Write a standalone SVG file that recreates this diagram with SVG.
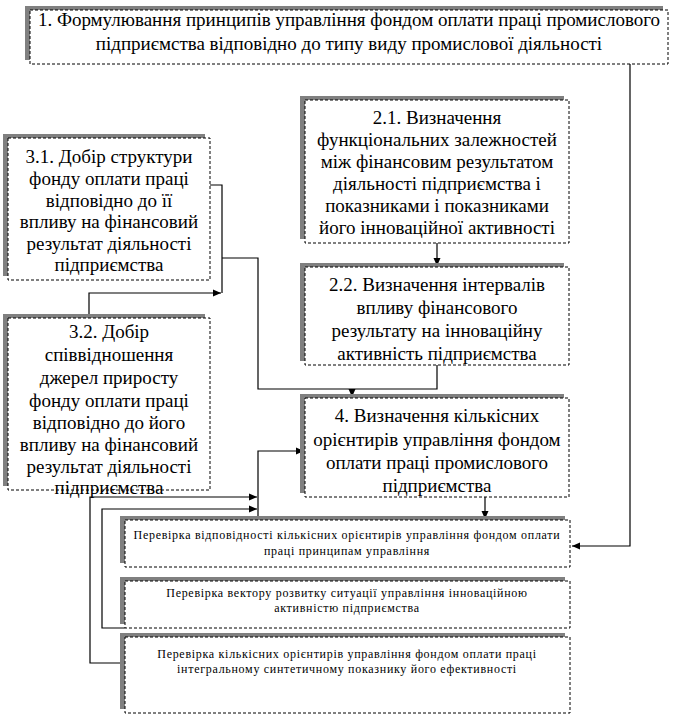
<svg xmlns="http://www.w3.org/2000/svg" width="678" height="714" viewBox="0 0 678 714">
<defs>
<style>
.sh{fill:#808080;stroke:none}
.bx{fill:#fff;stroke:#000;stroke-width:1;stroke-dasharray:3,2}
.t{font-family:"Liberation Serif","Times New Roman",serif;font-size:19px;fill:#000;text-anchor:middle}
.s{font-family:"Liberation Serif","Times New Roman",serif;font-size:12px;fill:#000;text-anchor:middle;letter-spacing:0.7px}
.c{fill:none;stroke:#000;stroke-width:1.2}
</style>
<marker id="ah" markerWidth="9" markerHeight="8" refX="8" refY="4" orient="auto" markerUnits="userSpaceOnUse">
<path d="M0,0.5 L8,4 L0,7.5 z" fill="#000"/>
</marker>
</defs>
<rect width="678" height="714" fill="#fff"/>

<g id="connectors">
<path class="c" d="M630,64 V546 H572" marker-end="url(#ah)"/>
<path class="c" d="M437,243 V266" marker-end="url(#ah)"/>
<path class="c" d="M437,365 V389 H258 V258 H222"/>
<path class="c" d="M210,185 H222 V293"/>
<path class="c" d="M89,318 V293 H221" marker-end="url(#ah)"/>
<path class="c" d="M352,389 V397" marker-end="url(#ah)"/>
<path class="c" d="M258,520 V451 H304" marker-end="url(#ah)"/>
<path class="c" d="M122,663 H90 V497 H257" marker-end="url(#ah)"/>
<path class="c" d="M125,628 H102 V509 H257" marker-end="url(#ah)"/>
<path class="c" d="M485,497 V519" marker-end="url(#ah)"/>
</g>

<g id="n1">
<rect class="sh" x="25" y="6" width="638" height="54"/>
<rect class="bx" x="30" y="10" width="638" height="54"/>
<text class="t" x="349" y="26">1. Формулювання принципів управління фондом оплати праці промислового</text>
<text class="t" x="349" y="50">підприємства відповідно до типу виду промислової діяльності</text>
</g>

<g id="n21">
<rect class="sh" x="300" y="96" width="264" height="143"/>
<rect class="bx" x="305" y="100" width="264" height="143"/>
<text class="t" x="437" y="124">2.1. Визначення</text>
<text class="t" x="437" y="146">функціональних залежностей</text>
<text class="t" x="437" y="168">між фінансовим результатом</text>
<text class="t" x="437" y="190">діяльності підприємства і</text>
<text class="t" x="437" y="212">показниками і показниками</text>
<text class="t" x="437" y="234">його інноваційної активності</text>
</g>

<g id="n22">
<rect class="sh" x="300" y="263" width="264" height="98"/>
<rect class="bx" x="305" y="267" width="264" height="98"/>
<text class="t" x="437" y="291">2.2. Визначення інтервалів</text>
<text class="t" x="437" y="314">впливу фінансового</text>
<text class="t" x="437" y="337">результату на інноваційну</text>
<text class="t" x="437" y="360">активність підприємства</text>
</g>

<g id="n31">
<rect class="sh" x="3" y="134" width="202" height="142"/>
<rect class="bx" x="8" y="138" width="202" height="142"/>
<text class="t" x="109" y="163">3.1. Добір структури</text>
<text class="t" x="109" y="185">фонду оплати праці</text>
<text class="t" x="109" y="207">відповідно до її</text>
<text class="t" x="109" y="228">впливу на фінансовий</text>
<text class="t" x="109" y="250">результат діяльності</text>
<text class="t" x="109" y="271">підприємства</text>
</g>

<g id="n32">
<rect class="sh" x="3" y="314" width="202" height="172"/>
<rect class="bx" x="8" y="318" width="202" height="172"/>
<text class="t" x="109" y="338">3.2. Добір</text>
<text class="t" x="109" y="361">співвідношення</text>
<text class="t" x="109" y="384">джерел приросту</text>
<text class="t" x="109" y="407">фонду оплати праці</text>
<text class="t" x="109" y="429">відповідно до його</text>
<text class="t" x="109" y="451">впливу на фінансовий</text>
<text class="t" x="109" y="473">результат діяльності</text>
<text class="t" x="109" y="494">підприємства</text>
</g>

<g id="n4">
<rect class="sh" x="300" y="394" width="264" height="99"/>
<rect class="bx" x="305" y="398" width="264" height="99"/>
<text class="t" x="437" y="422">4. Визначення кількісних</text>
<text class="t" x="437" y="446">орієнтирів управління фондом</text>
<text class="t" x="437" y="469">оплати праці промислового</text>
<text class="t" x="437" y="492">підприємства</text>
</g>

<g id="b1">
<rect class="sh" x="120" y="516" width="445" height="47"/>
<rect class="bx" x="125" y="520" width="445" height="47"/>
<text class="s" x="347" y="539">Перевірка відповідності кількісних орієнтирів управління фондом оплати</text>
<text class="s" x="347" y="555">праці принципам управління</text>
</g>

<g id="b2">
<rect class="sh" x="120" y="577" width="445" height="47"/>
<rect class="bx" x="125" y="581" width="445" height="47"/>
<text class="s" x="347" y="597">Перевірка вектору розвитку ситуації управління інноваційною</text>
<text class="s" x="347" y="612">активністю підприємства</text>
</g>

<g id="b3">
<rect class="sh" x="120" y="633" width="445" height="76"/>
<rect class="bx" x="125" y="637" width="445" height="76"/>
<text class="s" x="347" y="658">Перевірка кількісних орієнтирів управління фондом оплати праці</text>
<text class="s" x="347" y="673">інтегральному синтетичному показнику його ефективності</text>
</g>
</svg>
